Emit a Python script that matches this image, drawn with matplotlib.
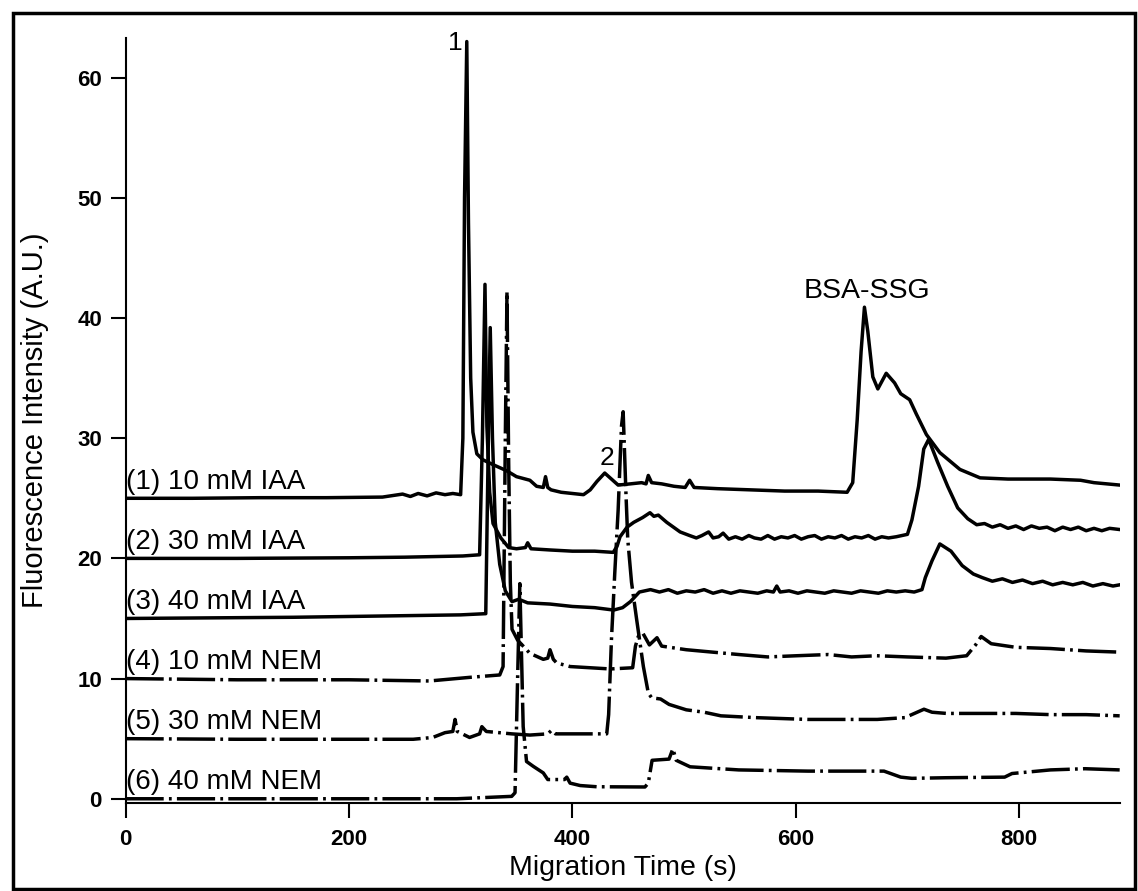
import matplotlib
matplotlib.use("Agg")
import matplotlib.pyplot as plt
from matplotlib.patches import Rectangle

plt.rcParams['font.family'] = ['Liberation Sans', 'DejaVu Sans']

# electropherograms, offset by 5 A.U. each
t1 = [0, 60, 120, 180, 230, 248, 255, 262, 270, 278, 286, 293, 300, 302, 303.5,
      305.5, 307, 309, 311, 314.5, 320, 329, 341, 350, 362, 368, 374, 376, 378, 381,
      390, 410, 416, 422, 429, 435, 441, 452, 462, 466, 468, 471, 480, 491, 501,
      505, 509, 530, 560, 590, 620, 646, 651, 655, 658.5, 661.5, 664.5, 669, 673.5, 681,
      688.5, 694, 702, 708, 717, 729, 747, 765, 790, 828, 855, 867, 890]
v1 = [25.0, 25.0, 25.05, 25.05, 25.1, 25.35, 25.15, 25.4, 25.2, 25.45, 25.3, 25.4, 25.3, 30, 50,
      63, 48, 35, 30.5, 28.7, 28.2, 27.8, 27.3, 26.8, 26.5, 26.0, 25.9, 26.8, 25.9, 25.7,
      25.5, 25.3, 25.7, 26.4, 27.1, 26.6, 26.1, 26.2, 26.3, 26.2, 26.9, 26.3, 26.2, 26.0, 25.9,
      26.5, 25.9, 25.8, 25.7, 25.6, 25.6, 25.5, 26.3, 31.5, 37.2, 40.9, 38.9, 35.1, 34.1, 35.4,
      34.6, 33.7, 33.2, 32.0, 30.3, 28.8, 27.4, 26.7, 26.6, 26.6, 26.5, 26.3, 26.1]

t2 = [0, 100, 200, 250, 302, 317, 319.5, 321.8, 323.5, 326, 329, 336, 343, 350, 358,
      360, 363, 380, 400, 420, 436.6, 440, 442.7, 449, 455, 463, 469.5, 473, 477, 484.5, 496.5,
      505, 511, 516, 522, 526, 531, 535, 540, 546, 552, 558, 563, 569, 575, 581, 587,
      593, 599, 605, 611, 617, 623, 629, 635, 641, 647, 653, 659, 665, 671, 677, 683, 690,
      700, 704, 710, 714.6, 719, 727, 736, 745, 754, 762, 769, 776, 783, 790, 797,
      804, 811, 818, 825, 832, 839, 846, 853, 860, 867, 874, 881, 890]
v2 = [20.0, 20.0, 20.05, 20.1, 20.2, 20.3, 30, 42.8, 31, 25.5, 22.9, 21.7, 20.9, 20.8, 20.9,
      21.3, 20.8, 20.7, 20.6, 20.6, 20.5, 21.0, 21.8, 22.6, 23.0, 23.4, 23.8, 23.5, 23.6, 23.0, 22.2,
      21.9, 21.7, 21.9, 22.2, 21.7, 21.8, 22.1, 21.6, 21.8, 21.6, 21.9, 21.7, 21.6, 21.9, 21.6, 21.8,
      21.7, 21.9, 21.6, 21.8, 21.9, 21.6, 21.8, 21.7, 21.9, 21.6, 21.8, 21.7, 21.9, 21.6, 21.8, 21.7, 21.8,
      22.0, 23.2, 26.0, 29.1, 29.9, 28.0, 26.0, 24.2, 23.3, 22.8, 22.9, 22.6, 22.8, 22.5, 22.7,
      22.4, 22.7, 22.5, 22.6, 22.3, 22.6, 22.4, 22.6, 22.3, 22.5, 22.3, 22.5, 22.4]

t3 = [0, 150, 300, 322.5, 324.5, 326.5, 328.5, 331, 335, 340, 346, 352, 360, 380, 400,
      420, 437, 445, 452, 460, 470,
      478, 486, 494, 502, 510, 518, 526, 534, 542, 550, 558, 566, 574, 580, 583,
      586, 594, 602, 610, 618, 626, 634, 642, 650, 658, 666, 674, 682, 690, 698, 706,
      713, 716, 722, 729, 739, 749, 759, 767, 776, 785, 794, 803, 812, 821, 830,
      839, 848, 857, 866, 875, 884, 890]
v3 = [15.0, 15.1, 15.3, 15.4, 28, 39.2, 30, 23, 19.5, 17.3, 16.4, 16.6, 16.3, 16.2, 16.0,
      15.9, 15.7, 15.9, 16.4, 17.2, 17.4,
      17.2, 17.4, 17.1, 17.3, 17.2, 17.4, 17.1, 17.3, 17.1, 17.3, 17.2, 17.1, 17.3, 17.2, 17.7,
      17.2, 17.3, 17.1, 17.3, 17.2, 17.1, 17.3, 17.2, 17.1, 17.3, 17.2, 17.1, 17.3, 17.2, 17.3, 17.2,
      17.4, 18.4, 19.8, 21.2, 20.6, 19.4, 18.7, 18.4, 18.1, 18.3, 18.0, 18.2, 17.9, 18.1, 17.8,
      18.0, 17.8, 18.0, 17.7, 17.9, 17.7, 17.8]

t4 = [0, 100, 200, 272, 308, 335, 338, 340, 341.5, 343, 344.5, 346, 351, 362, 374,
      378, 380, 383, 386, 398, 416, 434, 454, 456.5, 459, 463, 469, 475.8, 480, 502,
      549, 575, 601, 629, 650, 672.5, 700, 734.5, 753, 761, 766, 775, 797, 828, 860, 890]
v4 = [10.0, 9.9, 9.9, 9.8, 10.1, 10.3, 11, 30, 42.2, 28, 18, 14.1, 13.2, 12.1, 11.6,
      11.7, 12.4, 11.6, 11.3, 11.0, 10.9, 10.8, 10.9, 12.7, 13.5, 13.8, 12.8, 13.4, 12.7, 12.4,
      12.0, 11.8, 11.9, 12.0, 11.8, 11.9, 11.8, 11.7, 11.9, 12.8, 13.5, 12.9, 12.6, 12.5, 12.3, 12.2]

t5 = [0, 100, 200, 257.5, 275, 286, 293, 295, 297, 308, 317, 319, 323, 345.7, 362,
      378, 381.5, 385, 392, 430.8, 432.5, 435, 438, 441, 444, 445.5, 448, 449.6, 453, 457.6,
      463.6, 468, 471, 479, 486.6, 502, 518, 533, 564, 611, 673, 697.7, 714.8, 722, 735,
      797, 828, 860, 890]
v5 = [5.0, 4.95, 4.95, 4.95, 5.1, 5.5, 5.6, 6.6, 5.6, 5.1, 5.4, 6.0, 5.6, 5.4, 5.3,
      5.4, 5.7, 5.4, 5.4, 5.4, 7, 13.2, 18.8, 24, 31, 32.2, 25.4, 21.6, 18, 14.9,
      11.0, 8.8, 8.4, 8.3, 7.85, 7.4, 7.2, 6.9, 6.75, 6.6, 6.6, 6.75, 7.45, 7.2, 7.1,
      7.1, 7.0, 7.0, 6.9]

t6 = [0, 100, 200, 296.5, 345.7, 348.7, 351, 353, 356, 359, 365, 374, 378, 393, 395,
      398, 407, 421.8, 465, 468, 471.4, 486.6, 490, 493, 505.4, 549, 611, 666.6, 679, 694,
      704, 734.5, 787, 793.6, 828, 859, 890]
v6 = [0.0, 0.0, 0.0, 0.0, 0.2, 0.5, 10, 17.9, 6.0, 3.1, 2.7, 2.15, 1.6, 1.6, 1.8,
      1.3, 1.1, 1.0, 0.98, 1.3, 3.2, 3.3, 4.16, 3.2, 2.66, 2.4, 2.3, 2.3, 2.3, 1.8,
      1.7, 1.75, 1.8, 2.1, 2.4, 2.5, 2.4]

labels = ['(1) 10 mM IAA', '(2) 30 mM IAA', '(3) 40 mM IAA',
          '(4) 10 mM NEM', '(5) 30 mM NEM', '(6) 40 mM NEM']
offsets = [25, 20, 15, 10, 5, 0]
traces = [(t1, v1), (t2, v2), (t3, v3), (t4, v4), (t5, v5), (t6, v6)]

fig = plt.figure(figsize=(11.38, 8.91), dpi=100)
ax = fig.add_axes([0.1103, 0.0988, 0.8736, 0.8586])

for i, (t, v) in enumerate(traces):
    if i < 3:
        ax.plot(t, v, color='black', lw=2.5, solid_joinstyle='round')
    else:
        ax.plot(t, v, color='black', lw=2.5, linestyle=(0, (11, 1.5, 0.8, 1.5)))

for lab, off in zip(labels, offsets):
    ax.text(0.6, off + 0.8, lab, fontsize=20, ha='left', va='baseline')

ax.text(295, 62.3, '1', fontsize=19, ha='center', va='baseline')
ax.text(430.6, 27.8, '2', fontsize=19, ha='center', va='baseline')
ax.text(664, 41.7, 'BSA-SSG', fontsize=20.5, ha='center', va='baseline')

ax.set_xlim(0, 890)
ax.set_ylim(-0.35, 63.3)
ax.set_xticks([0, 200, 400, 600, 800])
ax.set_yticks([0, 10, 20, 30, 40, 50, 60])
ax.spines['top'].set_visible(False)
ax.spines['right'].set_visible(False)
for s in ('left', 'bottom'):
    ax.spines[s].set_linewidth(1.5)
ax.tick_params(direction='out', length=11, width=1.5, labelsize=16)
ax.tick_params(axis='x', pad=8)
ax.tick_params(axis='y', pad=6)
for lab in ax.get_xticklabels() + ax.get_yticklabels():
    lab.set_fontweight('bold')

ax.set_xlabel('Migration Time (s)', fontsize=20.5, labelpad=3)
fig.text(0.031, 0.5286, 'Fluorescence Intensity (A.U.)', fontsize=21,
         rotation=90, ha='center', va='center')

# outer frame around the figure
fig.patches.append(Rectangle((0.011, 0.0025), 0.9868, 0.9826, transform=fig.transFigure,
                             fill=False, lw=2.5, ec='black'))

fig.savefig('out.png', dpi=100)
